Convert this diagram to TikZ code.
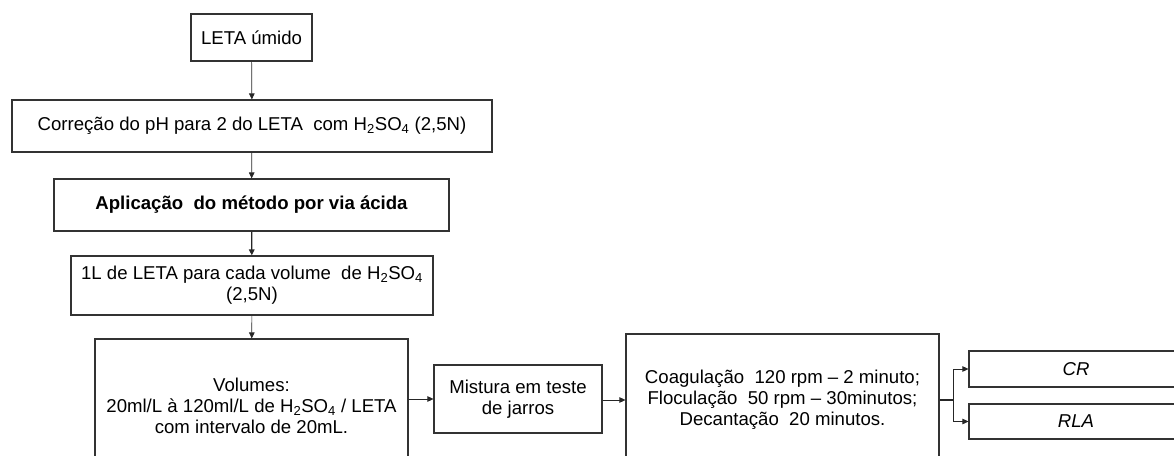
\documentclass[tikz,border=0pt]{standalone}
\usepackage{fontspec}
\setmainfont{Liberation Sans}
\usetikzlibrary{arrows.meta}
\begin{document}
\begin{tikzpicture}[x=1pt,y=-1pt,
  box/.style={draw=black!80, line width=1.1pt, inner sep=0pt, align=center,
    font=\fontsize{18.6}{21}\selectfont, text=black},
  arr/.style={draw=black!85, line width=0.7pt, -{Triangle[length=6pt,width=5.5pt]}}]
\useasboundingbox (0,0) rectangle (1174,455);
\clip (0,0) rectangle (1174,455);
\node[box, minimum width=121pt, minimum height=47pt] (leta) at (251.5,37.5) {LETA úmido};
\node[box, minimum width=480pt, minimum height=52pt] (corr) at (252,126)
  {Correção do pH para 2 do LETA\ \ com H\textsubscript{2}SO\textsubscript{4} (2,5N)};
\node[box, minimum width=395pt, minimum height=52pt] (apl) at (251.5,205)
  {\bfseries Aplicação\ \ do método por via ácida};
\node[box, minimum width=362pt, minimum height=59pt] (uml) at (252,285.5)
  {1L de LETA para cada volume\ \ de H\textsubscript{2}SO\textsubscript{4}\\(2,5N)};
\node[box, minimum width=313pt, minimum height=134pt] (vol) at (251.5,406)
  {Volumes:\\20ml/L à 120ml/L de H\textsubscript{2}SO\textsubscript{4} / LETA\\com intervalo de 20mL.};
\node[box, minimum width=168pt, minimum height=68pt] (mis) at (518,399)
  {Mistura em teste\\de jarros};
\node[box, minimum width=313pt, minimum height=132pt] (coag) at (782.5,400)
  {Coagulação\ \ 120 rpm – 2 minuto;\\Floculação\ \ 50 rpm – 30minutos;\\Decantação\ \ 20 minutos.};
\node[box, minimum width=214pt, minimum height=36pt] (cr) at (1076,369) {\itshape CR};
\node[box, minimum width=214pt, minimum height=35pt] (rla) at (1076,421.5) {\itshape RLA};
\coordinate (j) at (953,400);
\draw[arr] (leta) -- (corr);
\draw[arr] (corr) -- (apl);
\draw[arr, line width=1.3pt] (apl) -- (uml);
\draw[arr] (uml) -- (vol);
\draw[arr] (vol.east |- mis.west) -- (mis.west);
\draw[arr] (mis.east |- coag.west) -- (coag.west);
\draw[draw=black!85, line width=1.3pt] (coag.east) -- (j);
\draw[arr] (j) |- (cr.west);
\draw[arr] (j) |- (rla.west);
\end{tikzpicture}
\end{document}
